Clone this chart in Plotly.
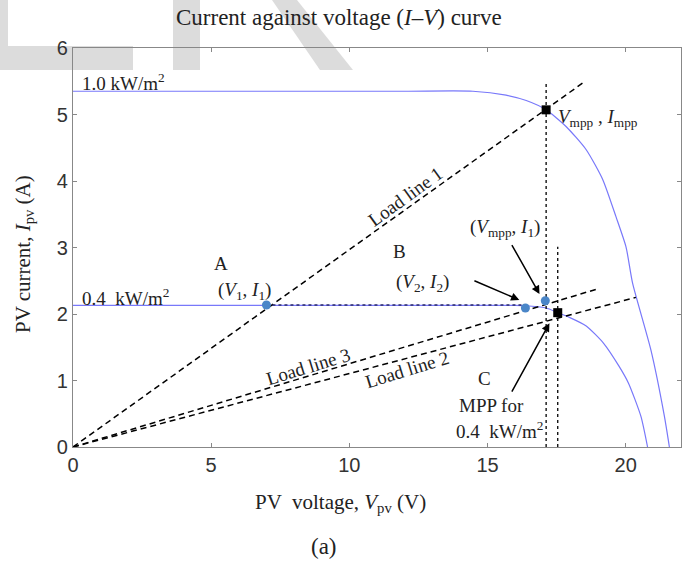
import plotly.graph_objects as go

# ---------------- data ----------------
V_10 = [0, 12.0, 14.47, 15.67, 16.40, 17.12, 17.84, 18.57, 19.17, 19.65, 20.01, 20.25, 20.91, 21.40, 21.58]
I_10 = [5.35, 5.35, 5.35, 5.29, 5.21, 5.07, 4.82, 4.47, 4.02, 3.46, 3.01, 2.46, 1.46, 0.46, 0.0]

V_04 = [0, 16.0, 16.5, 17.12, 17.54, 17.96, 18.57, 19.20, 19.75, 20.1, 20.55, 20.79]
I_04 = [2.13, 2.13, 2.12, 2.09, 2.02, 1.95, 1.82, 1.56, 1.22, 0.96, 0.46, 0.0]

load_names = ["Load line 1", "Load line 2", "Load line 3"]
load_V = [[0, 18.5], [0, 20.37], [0, 18.92]]
load_I = [[0, 5.49], [0, 2.25], [0, 2.37]]

blue_V = [7.0, 16.37, 17.09]
blue_I = [2.135, 2.09, 2.20]

mpp_V = [17.12, 17.54]
mpp_I = [5.07, 2.02]

vline_V = [17.12, 17.54]
vline_top = [5.49, 3.01]

hline_V = [7.0, 16.4]
hline_I = [2.135, 2.135]

x_ticks = [0, 5, 10, 15, 20]
y_ticks = [0, 1, 2, 3, 4, 5, 6]

# ---------------- layout geometry ----------------
W, H = 689, 562
L, R, T, B = 73, 8, 48, 115
PW, PH = W - L - R, H - T - B


def px(xp):
    return (xp - L) / PW


def py(yp):
    return (H - B - yp) / PH


SERIF = "Liberation Serif"
SANS = "Liberation Sans"
CURVE = "rgb(120,120,250)"

fig = go.Figure()

fig.add_trace(go.Scatter(x=V_10, y=I_10, mode="lines", line=dict(color=CURVE, width=1.2, shape="spline", smoothing=0.6),
                         showlegend=False, hoverinfo="skip"))
fig.add_trace(go.Scatter(x=V_04, y=I_04, mode="lines", line=dict(color=CURVE, width=1.2, shape="spline", smoothing=0.6),
                         showlegend=False, hoverinfo="skip"))

for lv, li in zip(load_V, load_I):
    fig.add_trace(go.Scatter(x=lv, y=li, mode="lines", line=dict(color="black", width=1.5, dash="6px,4px"),
                             showlegend=False, hoverinfo="skip"))

for v, top in zip(vline_V, vline_top):
    fig.add_trace(go.Scatter(x=[v, v], y=[0, top], mode="lines", line=dict(color="black", width=1.3, dash="dot"),
                             showlegend=False, hoverinfo="skip"))

fig.add_trace(go.Scatter(x=hline_V, y=hline_I, mode="lines", line=dict(color="#2a2a6a", width=1.5, dash="dot"),
                         showlegend=False, hoverinfo="skip"))

fig.add_trace(go.Scatter(x=blue_V, y=blue_I, mode="markers", marker=dict(color="#4a86c8", size=9),
                         showlegend=False, hoverinfo="skip"))
fig.add_trace(go.Scatter(x=mpp_V, y=mpp_I, mode="markers", marker=dict(color="black", size=9, symbol="square"),
                         showlegend=False, hoverinfo="skip"))

# watermark shapes (light gray)
wm = [
    [(0, 0), (8, 0), (8, 46), (0, 46)],
    [(0, 46), (133, 46), (133, 70), (0, 70)],
    [(173, 0), (200, 0), (200, 70), (173, 70)],
    [(272, 0), (297, 0), (353, 70), (320, 70)],
]
for poly in wm:
    path = "M " + " L ".join(f"{px(a):.4f},{py(b):.4f}" for a, b in poly) + " Z"
    fig.add_shape(type="path", path=path, xref="paper", yref="paper", fillcolor="#dcdcdc",
                  line=dict(width=0), layer="below")

ann = []


def txt(x, y, s, size=19, angle=0, xanchor="center"):
    ann.append(dict(x=x, y=y, xref="x", yref="y", text=s, showarrow=False, textangle=angle,
                    xanchor=xanchor, yanchor="middle", font=dict(family=SERIF, size=size, color="#222")))


txt(0.25, 5.49, "1.0 kW/m<sup>2</sup>", xanchor="left")
txt(5.37, 2.76, "A")
txt(6.22, 2.34, "(<i>V</i><sub>1</sub>, <i>I</i><sub>1</sub>)")
txt(0.25, 2.26, "0.4  kW/m<sup>2</sup>", xanchor="left")
txt(12.03, 3.77, "Load line 1", angle=-36)
txt(11.82, 2.94, "B")
txt(12.63, 2.46, "(<i>V</i><sub>2</sub>, <i>I</i><sub>2</sub>)")
txt(15.63, 3.29, "(<i>V</i><sub>mpp</sub>, <i>I</i><sub>1</sub>)")
txt(17.48, 4.94, "<i>V</i><sub>mpp</sub> , <i>I</i><sub>mpp</sub>", xanchor="left")
txt(8.53, 1.21, "Load line 3", angle=-17)
txt(12.1, 1.16, "Load line 2", angle=-17)
txt(14.89, 1.03, "C")
txt(15.13, 0.63, "MPP for")
txt(15.43, 0.26, "0.4  kW/m<sup>2</sup>")

# arrows
arrows = [((16.88, 2.30), (15.85, 3.06)), ((16.15, 2.21), (14.47, 2.51)), ((17.24, 1.86), (15.85, 0.81))]
for (hx, hy), (tx, ty) in arrows:
    ann.append(dict(x=hx, y=hy, ax=tx, ay=ty, xref="x", yref="y", axref="x", ayref="y", text="",
                    showarrow=True, arrowhead=2, arrowsize=1.1, arrowwidth=1.5, arrowcolor="black"))

# titles
ann.append(dict(x=px(339), y=py(18), xref="paper", yref="paper", showarrow=False,
                text="Current against voltage (<i>I</i>–<i>V</i>) curve", font=dict(family=SERIF, size=23, color="#222"),
                xanchor="center", yanchor="middle"))
ann.append(dict(x=px(340), y=py(503), xref="paper", yref="paper", showarrow=False,
                text="PV  voltage, <i>V</i><sub>pv</sub> (V)", font=dict(family=SERIF, size=21, color="#222"),
                xanchor="center", yanchor="middle"))
ann.append(dict(x=px(24), y=py(254), xref="paper", yref="paper", showarrow=False, textangle=-90,
                text="PV current, <i>I</i><sub>pv</sub> (A)", font=dict(family=SERIF, size=21, color="#222"),
                xanchor="center", yanchor="middle"))
ann.append(dict(x=px(324), y=py(546), xref="paper", yref="paper", showarrow=False,
                text="(a)", font=dict(family=SERIF, size=23, color="#222"),
                xanchor="center", yanchor="middle"))

axis_common = dict(showgrid=False, zeroline=False, showline=True, linecolor="#888", linewidth=1.2,
                   mirror="ticks", ticks="inside", ticklen=4, tickcolor="#888", automargin=False,
                   tickfont=dict(family=SANS, size=20, color="#333"))

fig.update_layout(
    width=W, height=H,
    margin=dict(l=L, r=R, t=T, b=B),
    paper_bgcolor="white", plot_bgcolor="rgba(0,0,0,0)",
    xaxis=dict(range=[0, 22], tickvals=x_ticks, **axis_common),
    yaxis=dict(range=[0, 6], tickvals=y_ticks, **axis_common),
    annotations=ann,
    showlegend=False,
)

fig.write_html("out.html", post_script="document.body.style.margin='0';",
               config={"displayModeBar": False})
